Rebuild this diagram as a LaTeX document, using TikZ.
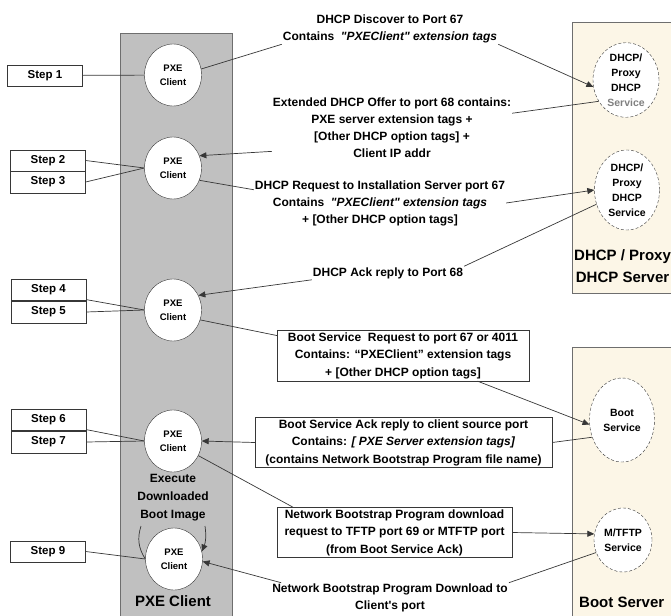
\documentclass[tikz,border=0pt]{standalone}
\usepackage{fontspec}
\setmainfont{Liberation Sans}[Ligatures=TeXOff]
\usetikzlibrary{shapes,arrows.meta,positioning,calc}

\definecolor{colgray}{RGB}{192,192,192}
\definecolor{srvcream}{RGB}{252,246,231}
\definecolor{linegray}{RGB}{55,55,55}
\definecolor{edgegray}{RGB}{110,110,110}

\begin{document}
\begin{tikzpicture}[
        x=1pt, y=-1pt,
        client/.style={ellipse, draw=linegray, fill=white, minimum width=57pt, minimum height=62pt, inner sep=0pt, align=center, font=\bfseries\fontsize{9.5}{14}\selectfont},
        service/.style={ellipse, draw=linegray, densely dashed, fill=white, inner sep=0pt, align=center, font=\bfseries\fontsize{10.5}{15}\selectfont},
        stepbox/.style={rectangle, draw=linegray, fill=white, minimum width=75pt, minimum height=21.5pt, inner sep=0pt, font=\bfseries\fontsize{11.5}{13}\selectfont},
        msgbox/.style={rectangle, draw=linegray, fill=white, align=center, inner sep=2pt, font=\bfseries\fontsize{12}{17.5}\selectfont},
        msgtext/.style={align=center, inner sep=1pt, font=\bfseries\fontsize{12}{17}\selectfont},
        paneltitle/.style={inner sep=0pt, font=\bfseries\fontsize{15}{22}\selectfont},
        link/.style={-, linegray, line width=0.7pt},
        message/.style={->, >={Triangle[length=7pt,width=6pt]}, linegray, line width=0.7pt}
    ]

    \useasboundingbox (0,0) rectangle (671,615);
    \clip (0,0) rectangle (671,615);

    % Panels
    \draw[edgegray, fill=colgray] (120,33) rectangle (232,630);
    \draw[edgegray, fill=srvcream] (572,22) rectangle (700,293);
    \draw[edgegray, fill=srvcream] (572,347) rectangle (700,630);

    % Clients
    \node[client] (pxe1) at (173,75) {PXE\\Client};
    \node[client] (pxe2) at (173,168) {PXE\\Client};
    \node[client] (pxe3) at (173,310) {PXE\\Client};
    \node[client] (pxe4) at (173,441) {PXE\\Client};
    \node[client] (pxe5) at (174,559) {PXE\\Client};
    \node[msgtext, font=\bfseries\fontsize{12}{18}\selectfont] (exec) at (173,498) {Execute\\Downloaded\\Boot Image};
    \node[paneltitle] (clientlbl) at (173,601) {PXE Client};

    % Services
    \node[service, minimum width=66pt, minimum height=68pt] (dhcpa) at (626,80) {DHCP/\\Proxy\\DHCP\\{\color{gray}Service}};
    \node[service, minimum width=65pt, minimum height=80pt] (dhcpb) at (627,190) {DHCP/\\Proxy\\DHCP\\Service};
    \node[service, minimum width=65pt, minimum height=84pt] (boot) at (622,420) {Boot\\Service};
    \node[service, minimum width=58pt, minimum height=64pt] (tftp) at (623,540) {M/TFTP\\Service};
    \node[paneltitle, align=center, anchor=west] (dhcplbl) at (574,266) {DHCP / Proxy\\DHCP Server};
    \node[paneltitle, anchor=west] (bootlbl) at (579,602) {Boot Server};

    % Steps
    \node[stepbox] (step1) at (45,75.5) {Step 1};
    \node[stepbox] (step2) at (48,160.5) {Step 2};
    \node[stepbox] (step3) at (48,182) {Step 3};
    \node[stepbox] (step4) at (48.5,289.5) {Step 4};
    \node[stepbox] (step5) at (48.5,312) {Step 5};
    \node[stepbox] (step6) at (48.5,419.5) {Step 6};
    \node[stepbox] (step7) at (48.5,442) {Step 7};
    \node[stepbox] (step9) at (48,551.5) {Step 9};

    % Message texts
    \node[msgtext] (discover) at (390,29) {DHCP Discover to Port 67\\Contains\ \ \textit{"PXEClient" extension tags}};
    \node[msgtext] (offer) at (392,128) {Extended DHCP Offer to port 68 contains:\\PXE server extension tags +\\{}[Other DHCP option tags] +\\Client IP addr};
    \node[msgtext] (request) at (380,203) {DHCP Request to Installation Server port 67\\Contains\ \ \textit{"PXEClient" extension tags}\\+ [Other DHCP option tags]};
    \node[msgtext] (ack) at (388,273) {DHCP Ack reply to Port 68};
    \node[msgbox, minimum width=252pt, minimum height=51pt] (bootreq) at (403,355.5) {Boot Service\ \ Request to port 67 or 4011\\Contains: “PXEClient” extension tags\\+ [Other DHCP option tags]};
    \node[msgbox, minimum width=297pt, minimum height=49pt] (bootack) at (403.5,442.5) {Boot Service Ack reply to client source port\\Contains: \textit{[ PXE Server extension tags]}\\(contains Network Bootstrap Program file name)};
    \node[msgbox, minimum width=235pt, minimum height=49pt] (nbpreq) at (394.5,532.5) {Network Bootstrap Program download\\request to TFTP port 69 or MTFTP port\\(from Boot Service Ack)};
    \node[msgtext] (nbpdl) at (390,598) {Network Bootstrap Program Download to\\Client's port};

    % Step links
    \draw[link] (step1) -- (pxe1);
    \draw[link] (step2.east) -- (pxe2.west);
    \draw[link] (step3.east) -- (pxe2.west);
    \draw[link] (step4.-15) -- (pxe3.west);
    \draw[link] (step5.east) -- (pxe3.west);
    \draw[link] (step6.-15) -- (pxe4.west);
    \draw[link] (step7.east) -- (pxe4.west);
    \draw[link] (step9.east) -- (pxe5.west);

    % Messages
    \draw[link] (pxe1.12) -- (discover.south west);
    \draw[message] (discover.south east) -- (dhcpa.192);
    \draw[link] (dhcpa.218) -- (offer.7);
    \draw[message] (offer.191) -- (pxe2.25);
    \draw[link] (pxe2.-25) -- (request.174);
    \draw[message] (request.east) -- (dhcpb.west);
    \draw[link] (dhcpb.205) -- (ack.north east);
    \draw[message] (ack.south west) -- (pxe3.30);
    \draw[link] (pxe3.-20) -- (bootreq.171);
    \draw[message] (bootreq.-19) -- (boot.188);
    \draw[link] (boot.210) -- (bootack.east);
    \draw[message] (bootack.west) -- (pxe4.east);
    \draw[link] (pxe4.-30) -- (nbpreq.166);
    \draw[message] (nbpreq.east) -- (tftp.168);
    \draw[link] (tftp.205) -- (nbpdl.north east);
    \draw[message] (nbpdl.172) -- (pxe5.-5);

    % Boot image loop
    \coordinate (loopL) at (141,526);
    \coordinate (loopR) at (205,526);
    \draw[link] (loopL) to[bend right=25] (pxe5.west);
    \draw[message] (loopR) to[bend left=15] (pxe5.15);

\end{tikzpicture}
\end{document}
